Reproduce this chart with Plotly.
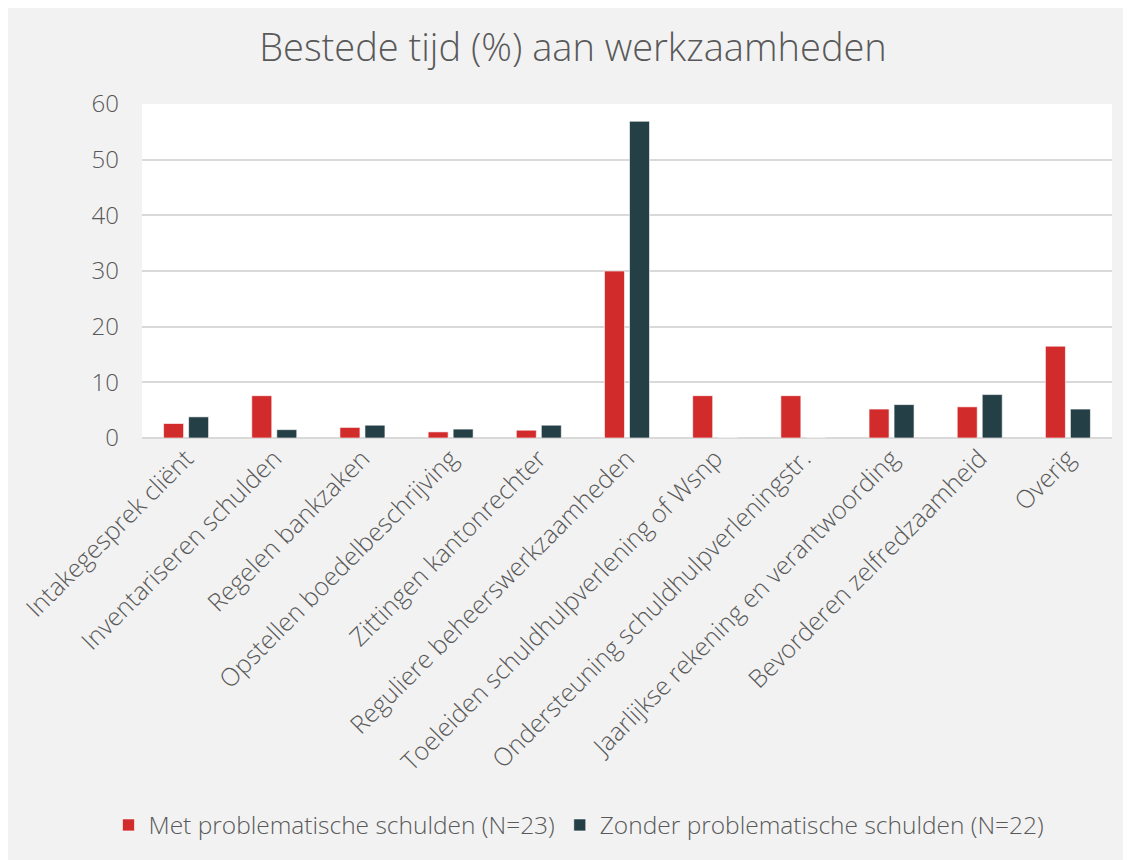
import plotly.graph_objects as go

categories = [
    "Intakegesprek cliënt",
    "Inventariseren schulden",
    "Regelen bankzaken",
    "Opstellen boedelbeschrijving",
    "Zittingen kantonrechter",
    "Reguliere beheerswerkzaamheden",
    "Toeleiden schuldhulpverlening of Wsnp",
    "Ondersteuning schuldhulpverleningstr.",
    "Jaarlijkse rekening en verantwoording",
    "Bevorderen zelfredzaamheid",
    "Overig",
]
met_values = [2.6, 7.6, 1.9, 1.1, 1.4, 30.0, 7.6, 7.6, 5.2, 5.6, 16.5]
zonder_values = [3.8, 1.5, 2.3, 1.6, 2.3, 56.9, 0, 0, 6.0, 7.8, 5.2]
series_names = ["Met problematische schulden (N=23)", "Zonder problematische schulden (N=22)"]
y_ticks = [0, 10, 20, 30, 40, 50, 60]

OFF = 8  # page body margin
W, H = 1131 - OFF, 860 - OFF
# plot area in page pixel coords
L, R, T, B = 142, 1112, 104, 438

def px_x(p):
    return (p - L) / (R - L)

def px_y(p):
    return (B - p) / (B - T)

font_family = "'Open Sans', Lato, sans-serif"
text_color = "#595959"

fig = go.Figure()
fig.add_trace(go.Bar(
    x=categories, y=met_values, name=series_names[0],
    marker=dict(color="#d22b2b", line=dict(color="rgba(255,255,255,0.6)", width=1)),
))
fig.add_trace(go.Bar(
    x=categories, y=zonder_values, name=series_names[1],
    marker=dict(color="#253f47", line=dict(color="rgba(255,255,255,0.6)", width=1)),
))

fig.update_layout(
    width=W, height=H,
    margin=dict(l=L - OFF, r=W - (R - OFF), t=T - OFF, b=H - (B - OFF), autoexpand=False),
    paper_bgcolor="#f2f2f2",
    plot_bgcolor="#ffffff",
    barmode="group",
    bargap=0.433,
    bargroupgap=0.2,
    font=dict(family=font_family, color=text_color, size=24, weight=300),
    title=dict(
        text="Bestede tijd (%) aan werkzaamheden",
        x=(573 - OFF) / W, xanchor="center",
        y=1 - (48 - OFF) / H, yanchor="middle",
        font=dict(size=38, color=text_color, family=font_family, weight=300),
    ),
    xaxis=dict(
        tickangle=-45,
        tickfont=dict(size=25, color=text_color, family=font_family, weight=300),
        showgrid=False,
        showline=False,
        ticks="",
        automargin=False,
    ),
    yaxis=dict(
        range=[0, 60],
        tickvals=y_ticks,
        showgrid=True,
        gridcolor="#d9d9d9",
        gridwidth=1.5,
        zeroline=True,
        zerolinecolor="#d9d9d9",
        zerolinewidth=1.5,
        tickfont=dict(size=24, color=text_color, family=font_family, weight=300),
        ticks="",
        ticklabelstandoff=22,
        automargin=False,
    ),
    legend=dict(
        orientation="h",
        x=px_x(579), xanchor="center",
        y=px_y(825), yanchor="middle",
        font=dict(size=24.5, color=text_color, family=font_family, weight=300),
        bgcolor="rgba(0,0,0,0)",
        itemwidth=30,
        traceorder="normal",
    ),
)

fig.write_html("out.html")
